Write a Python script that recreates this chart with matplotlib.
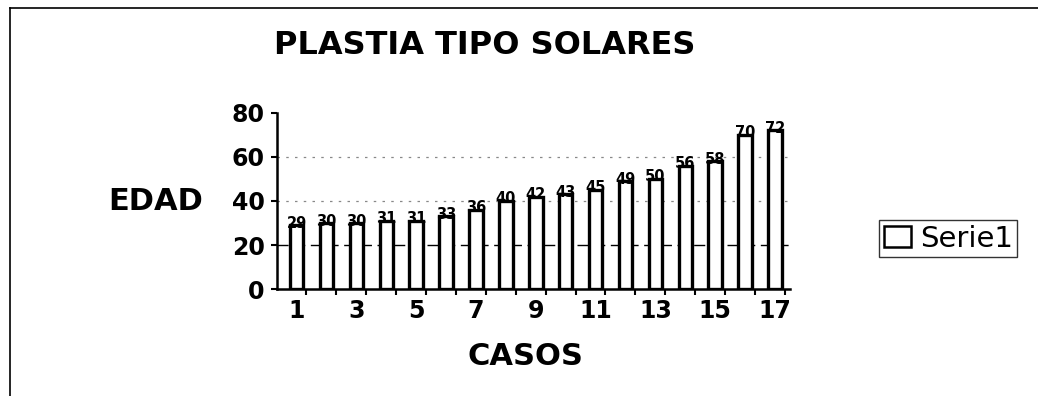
import numpy as np
import matplotlib.pyplot as plt
from matplotlib.lines import Line2D
from matplotlib.patches import Patch

plt.rcParams['font.family'] = ['DejaVu Sans']

# ages per case
casos = np.arange(1, 18)
edad = [29, 30, 30, 31, 31, 33, 36, 40, 42, 43, 45, 49, 50, 56, 58, 70, 72]
tick_labels = [str(c) for c in casos[::2]]

fig = plt.figure(figsize=(10.38, 3.96), dpi=100)
ax = fig.add_axes([0.267, 0.270, 0.494, 0.445])

bars = ax.bar(casos, edad, width=0.45, color='white', edgecolor='black',
              linewidth=2.4, zorder=3)

# value on top of each bar
for b, v in zip(bars, edad):
    ax.text(b.get_x() + b.get_width() / 2, v - 2.5, str(v), ha='center',
            va='bottom', fontsize=10.5, fontweight='bold', zorder=4)

ax.set_xlim(0.35, 17.5)
ax.set_ylim(0, 80)
ax.set_yticks([0, 20, 40, 60, 80])
ax.set_xticks(casos[::2])
ax.set_xticklabels(tick_labels)
ax.tick_params(axis='both', labelsize=17, width=1.5, length=4, pad=5)
for lbl in ax.get_xticklabels() + ax.get_yticklabels():
    lbl.set_fontweight('bold')
ax.tick_params(axis='x', length=0, pad=7)
# category boundary marks along the x axis
ax.set_xticks(casos + 0.33, minor=True)
ax.tick_params(axis='x', which='minor', length=4, width=1.5)

# gridlines
ax.axhline(20, color='black', linestyle=(0, (8, 4)), linewidth=1.0, zorder=1)
for g in (40, 60):
    ax.axhline(g, color='#888888', linestyle=(0, (2, 5)), linewidth=0.9, zorder=1)

for s in ('top', 'right'):
    ax.spines[s].set_visible(False)
ax.spines['left'].set_linewidth(1.8)
ax.spines['bottom'].set_linewidth(1.8)

fig.text(0.467, 0.885, 'PLASTIA TIPO SOLARES', ha='center', va='center',
         fontsize=23, fontweight='bold')
fig.text(0.150, 0.49, 'EDAD', ha='center', va='center', fontsize=22,
         fontweight='bold')
fig.text(0.506, 0.100, 'CASOS', ha='center', va='center', fontsize=22,
         fontweight='bold')

handle = Patch(facecolor='white', edgecolor='black', linewidth=1.8)
fig.legend([handle], ['Serie1'], loc='upper left',
           bbox_to_anchor=(0.847, 0.444), fontsize=21, frameon=True,
           fancybox=False, edgecolor='black', handlelength=0.95,
           handleheight=0.7, handletextpad=0.3, borderpad=0.15,
           borderaxespad=0)

# outer frame lines
fig.add_artist(Line2D([0.010, 0.010], [0.0, 0.98], color='black', linewidth=1.2))
fig.add_artist(Line2D([0.010, 1.0], [0.98, 0.98], color='black', linewidth=1.2))

fig.savefig('out.png', dpi=100)
